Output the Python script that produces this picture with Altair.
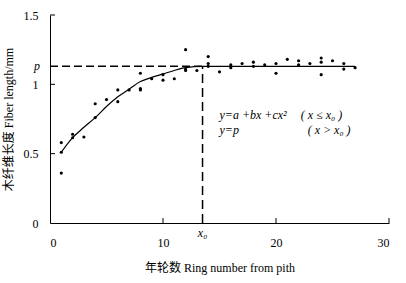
import altair as alt
import pandas as pd

# observed points (ring number, fiber length mm)
ring = [1, 1, 1, 2, 2, 3, 4, 4, 5, 6, 6, 7, 8, 8, 8, 9, 10, 10, 11,
        12, 12, 12, 13, 14, 14, 14, 15, 16, 16, 17, 18, 18, 19, 20, 20,
        21, 22, 22, 23, 24, 24, 24, 25, 26, 26, 27]
fiber = [0.58, 0.51, 0.36, 0.64, 0.615, 0.62, 0.86, 0.76, 0.89, 0.96, 0.875,
         0.96, 1.08, 0.97, 0.96, 1.04, 1.07, 1.03, 1.04,
         1.25, 1.11, 1.10, 1.10, 1.20, 1.15, 1.13, 1.09, 1.14, 1.12, 1.15,
         1.16, 1.13, 1.14, 1.15, 1.08, 1.18, 1.17, 1.14, 1.15, 1.19, 1.16,
         1.07, 1.17, 1.15, 1.11, 1.12]

# fitted curve
curve_x = [1, 2, 3, 4, 5, 6, 7, 8, 9, 10, 11, 12, 13.5, 27]
curve_y = [0.51, 0.615, 0.69, 0.76, 0.84, 0.91, 0.965, 1.02, 1.05, 1.075,
           1.10, 1.12, 1.13, 1.13]

p_val = 1.13
x0_val = 13.5
x_ticks = [10, 20, 30]
y_ticks = [0.5, 1.0, 1.5]

eq_left = ["y=a +bx +cx²", "y=p"]
eq_right = ["( x ≤ x₀ )", "( x > x₀ )"]
eq_y = [0.78, 0.67]

SERIF = "Liberation Serif, 'Noto Sans CJK SC', serif"
W, H = 339, 208

xs = alt.Scale(domain=[0, 30], nice=False)
ys = alt.Scale(domain=[0, 1.5], nice=False)

pts_df = pd.DataFrame({"x": ring, "y": fiber})
curve_df = pd.DataFrame({"x": curve_x, "y": curve_y})

points = alt.Chart(pts_df).mark_circle(size=10, color="black", opacity=1).encode(
    x=alt.X("x:Q", scale=xs, axis=alt.Axis(
        values=[0, 10, 20, 30], ticks=False, labelPadding=14, grid=False,
        title="年轮数  Ring number from pith", titlePadding=14,
        labelExpr="'' + datum.value")),
    y=alt.Y("y:Q", scale=ys, axis=alt.Axis(
        values=[0, 0.5, 1, 1.5], ticks=False, labelPadding=12, grid=False,
        title="木纤维长度  Fiber length/mm", titlePadding=8,
        labelExpr="'' + datum.value")),
)

curve = alt.Chart(curve_df).mark_line(color="black", strokeWidth=1.2,
                                      interpolate="monotone").encode(
    x=alt.X("x:Q", scale=xs), y=alt.Y("y:Q", scale=ys))

hline = alt.Chart(pd.DataFrame({"x": [0], "x2": [x0_val], "y": [p_val]})).mark_rule(
    color="black", strokeWidth=1.5, strokeDash=[8, 4]).encode(
    x=alt.X("x:Q", scale=xs), x2="x2:Q", y=alt.Y("y:Q", scale=ys))

vline = alt.Chart(pd.DataFrame({"x": [x0_val], "y": [0], "y2": [p_val]})).mark_rule(
    color="black", strokeWidth=1.5, strokeDash=[9, 5]).encode(
    x=alt.X("x:Q", scale=xs), y=alt.Y("y:Q", scale=ys), y2="y2:Q")

xtick = alt.Chart(pd.DataFrame({"x": x_ticks})).mark_rule(color="black").encode(
    x=alt.X("x:Q", scale=xs), y=alt.value(H), y2=alt.value(H - 5))

ytick = alt.Chart(pd.DataFrame({"y": y_ticks})).mark_rule(color="black").encode(
    y=alt.Y("y:Q", scale=ys), x=alt.value(0), x2=alt.value(5))

p_lab = alt.Chart(pd.DataFrame({"y": [p_val], "t": ["p"]})).mark_text(
    font=SERIF, fontSize=12, fontStyle="italic", align="right", baseline="middle",
    dx=-10).encode(x=alt.value(0), y=alt.Y("y:Q", scale=ys), text="t:N")

x0_lab = alt.Chart(pd.DataFrame({"x": [x0_val], "t": ["x₀"]})).mark_text(
    font=SERIF, fontSize=12, fontStyle="italic", align="center", baseline="middle").encode(
    x=alt.X("x:Q", scale=xs), y=alt.value(H + 10), text="t:N")

eq_df = pd.DataFrame({"x": [15.0, 15.0], "y": eq_y, "t": eq_left})
eq1 = alt.Chart(eq_df).mark_text(font=SERIF, fontSize=12, fontStyle="italic",
                                 align="left", baseline="middle").encode(
    x=alt.X("x:Q", scale=xs), y=alt.Y("y:Q", scale=ys), text="t:N")
eq2_df = pd.DataFrame({"x": [22.2, 22.8], "y": eq_y, "t": eq_right})
eq2 = alt.Chart(eq2_df).mark_text(font=SERIF, fontSize=12, fontStyle="italic",
                                  align="left", baseline="middle").encode(
    x=alt.X("x:Q", scale=xs), y=alt.Y("y:Q", scale=ys), text="t:N")

chart = alt.layer(points, curve, hline, vline, xtick, ytick, p_lab, x0_lab, eq1, eq2).properties(
    width=W, height=H, autosize="none",
    padding={"left": 50, "top": 15, "right": 17, "bottom": 60},
    background="white",
).configure_view(stroke=None).configure_axis(
    domainColor="black", domainWidth=1, labelColor="black", titleColor="black",
    labelFont=SERIF, titleFont=SERIF, labelFontSize=12, titleFontSize=12,
    titleFontWeight="normal",
)

chart.save("out.html", embed_options={"renderer": "svg", "actions": False})
